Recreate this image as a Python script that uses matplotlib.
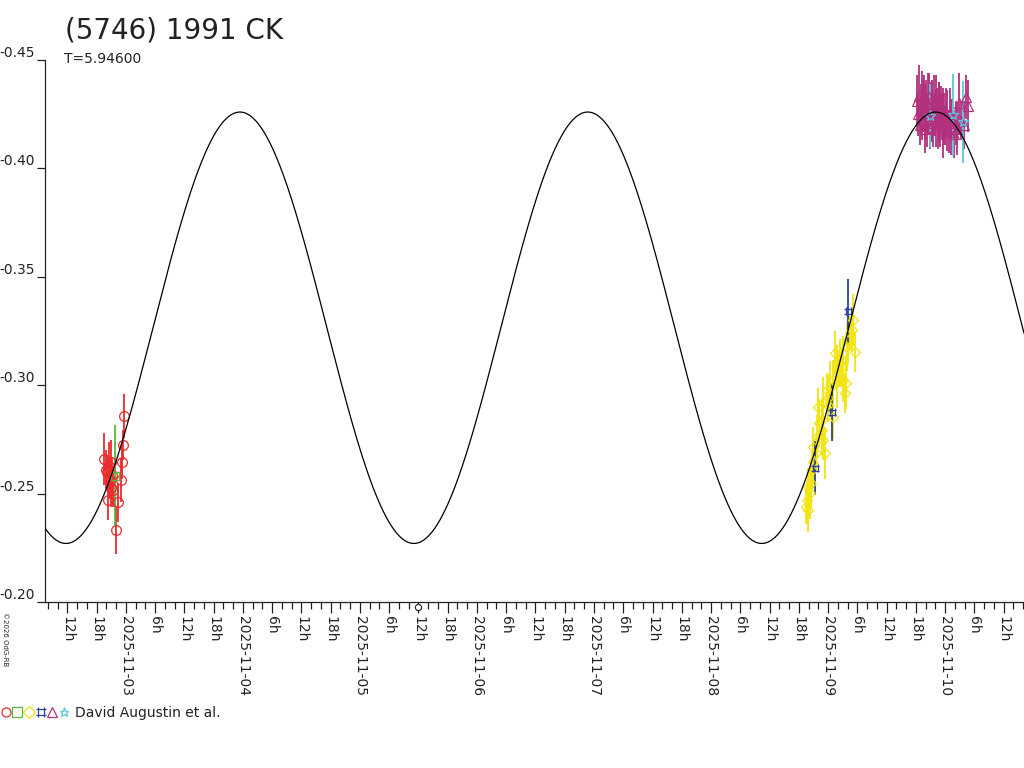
import numpy as np
import matplotlib.pyplot as plt
import matplotlib.dates as mdates
from matplotlib.path import Path
from matplotlib.legend_handler import HandlerTuple
from matplotlib.lines import Line2D
from datetime import datetime

# time axis: days relative to 2025-11-03 00:00 UT
base_date = datetime(2025, 11, 3)
x_range_days = (-0.692, 7.675)

# Fourier model of the light curve (period in days)
period_days = 5.946
model_epoch = 0.974
model_mean = -0.3265
model_amp2 = 0.0995

# red circles
red_days = [-0.188, -0.171, -0.162, -0.145, -0.137, -0.128, -0.120, -0.154,
            -0.111, -0.085, -0.068, -0.043, -0.034, -0.026, -0.017, -0.130]
red_mag = [-0.2660, -0.2609, -0.2600, -0.2627, -0.2563, -0.2646, -0.2586, -0.2470,
           -0.2517, -0.2332, -0.2461, -0.2563, -0.2646, -0.2724, -0.2858, -0.2526]
red_err = [0.012, 0.009, 0.008, 0.011, 0.009, 0.010, 0.008, 0.009,
           0.008, 0.011, 0.009, 0.010, 0.008, 0.007, 0.010, 0.009]

# green squares
green_days = [-0.098]
green_mag = [-0.2580]
green_err = [0.0235]

# yellow diamonds
yellow_days = [5.818, 5.829, 5.812, 5.852, 5.861, 5.872, 5.897, 5.974, 5.872, 5.926,
               5.946, 5.915, 5.960, 6.000, 6.043, 6.000, 6.043, 6.074, 6.128, 6.085,
               6.103, 6.145, 6.154, 6.060, 6.128, 6.171, 6.231, 6.203, 6.214, 6.188,
               6.160, 6.117, 6.074, 6.017, 5.989, 5.946, 5.960, 5.903, 5.846, 5.831]
yellow_mag = [-0.2470, -0.2424, -0.2438, -0.2549, -0.2609, -0.2646, -0.2687, -0.2687,
              -0.2715, -0.2826, -0.2839, -0.2899, -0.2918, -0.2909, -0.2853, -0.2941,
              -0.3024, -0.3015, -0.3024, -0.3070, -0.3102, -0.2964, -0.3010, -0.3149,
              -0.3149, -0.3208, -0.3153, -0.3255, -0.3301, -0.3241, -0.3176, -0.3084,
              -0.3084, -0.2992, -0.2978, -0.2793, -0.2747, -0.2761, -0.2503, -0.2530]
yellow_err = [0.009, 0.010, 0.008, 0.011, 0.009, 0.010, 0.008, 0.012, 0.009, 0.011,
              0.010, 0.009, 0.012, 0.008, 0.010, 0.011, 0.009, 0.012, 0.010, 0.008,
              0.011, 0.009, 0.012, 0.010, 0.008, 0.011, 0.009, 0.010, 0.012, 0.008,
              0.011, 0.009, 0.010, 0.012, 0.008, 0.011, 0.009, 0.010, 0.012, 0.009]

# blue hash markers
blue_days = [5.893, 6.038, 6.174]
blue_mag = [-0.2618, -0.2876, -0.3342]
blue_err = [0.0125, 0.0134, 0.0150]

# magenta triangles
magenta_days = [6.762, 6.770, 6.778, 6.785, 6.792, 6.800, 6.806, 6.812, 6.820, 6.826,
                6.832, 6.840, 6.846, 6.852, 6.860, 6.866, 6.872, 6.880, 6.886, 6.892,
                6.900, 6.906, 6.912, 6.920, 6.926, 6.932, 6.940, 6.946, 6.952, 6.960,
                6.966, 6.972, 6.980, 6.986, 6.992, 7.000, 7.010, 7.020, 7.030, 7.040,
                7.050, 7.060, 7.075, 7.090, 7.105, 7.120, 7.140, 7.160, 7.180, 7.195]
magenta_mag = [-0.4310, -0.4250, -0.4335, -0.4200, -0.4280, -0.4320, -0.4230, -0.4290,
               -0.4340, -0.4180, -0.4260, -0.4310, -0.4220, -0.4300, -0.4250, -0.4330,
               -0.4190, -0.4270, -0.4240, -0.4320, -0.4210, -0.4290, -0.4250, -0.4310,
               -0.4230, -0.4280, -0.4200, -0.4300, -0.4260, -0.4220, -0.4290, -0.4240,
               -0.4180, -0.4270, -0.4230, -0.4200, -0.4260, -0.4220, -0.4170, -0.4250,
               -0.4190, -0.4230, -0.4160, -0.4210, -0.4180, -0.4300, -0.4220, -0.4200,
               -0.4330, -0.4290]
magenta_err = [0.012, 0.010, 0.014, 0.009, 0.011, 0.013, 0.010, 0.012, 0.009, 0.011,
               0.013, 0.010, 0.012, 0.014, 0.009, 0.011, 0.010, 0.013, 0.012, 0.009,
               0.011, 0.014, 0.010, 0.012, 0.013, 0.009, 0.011, 0.010, 0.014, 0.012,
               0.009, 0.011, 0.013, 0.010, 0.012, 0.009, 0.011, 0.014, 0.010, 0.012,
               0.013, 0.009, 0.011, 0.010, 0.012, 0.014, 0.009, 0.011, 0.010, 0.012]

# cyan stars
cyan_days = [6.872, 7.071, 7.154]
cyan_mag = [-0.4242, -0.4246, -0.4214]
cyan_err = [0.0148, 0.0190, 0.0187]

epoch_mark_days = 2.5
y_ticks = [-0.45, -0.40, -0.35, -0.30, -0.25, -0.20]

base_num = mdates.date2num(base_date)


def to_num(days):
    return base_num + np.asarray(days)


hash_marker = Path([(-1, -0.6), (1, -0.6), (-1, 0.6), (1, 0.6),
                    (-0.6, -1), (-0.6, 1), (0.6, -1), (0.6, 1)],
                   [Path.MOVETO, Path.LINETO] * 4)

series = [
    (red_days, red_mag, red_err, 'o', '#ec2a2e', 7),
    (green_days, green_mag, green_err, 's', '#55b83a', 5.5),
    (yellow_days, yellow_mag, yellow_err, 'D', '#f2e40c', 5.5),
    (blue_days, blue_mag, blue_err, hash_marker, '#2b42a0', 6),
    (magenta_days, magenta_mag, magenta_err, '^', '#b2307e', 7),
    (cyan_days, cyan_mag, cyan_err, '*', '#5cc6e0', 8),
]

text_color = '#222222'
fig = plt.figure(figsize=(10.24, 7.68), dpi=100)
ax = fig.add_axes([45 / 1024, 1 - 602 / 768, (1024 - 45) / 1024, 542 / 768])

for days, mag, err, marker, color, size in series:
    ax.errorbar(to_num(days), mag, yerr=err, fmt='none', ecolor=color,
                elinewidth=1.3, capsize=0, zorder=2)
    ax.plot(to_num(days), mag, linestyle='none', marker=marker, ms=size,
            mfc='none', mec=color, mew=0.9, zorder=3)

t_days = np.linspace(x_range_days[0], x_range_days[1], 2000)
model = model_mean - model_amp2 * np.cos(4 * np.pi * (t_days - model_epoch) / period_days)
ax.plot(to_num(t_days), model, color='black', lw=0.9, zorder=5)

ax.set_xlim(to_num(x_range_days[0]), to_num(x_range_days[1]))
ax.set_ylim(-0.20, -0.45)

for side in ['top', 'right']:
    ax.spines[side].set_visible(False)
for side in ['left', 'bottom']:
    ax.spines[side].set_linewidth(0.9)
    ax.spines[side].set_color(text_color)

ax.set_yticks(y_ticks, labels=['%.2f' % v for v in y_ticks], va='bottom')
ax.tick_params(axis='y', length=6, width=0.9, pad=1, labelsize=10,
               colors=text_color)


def hour_label(x, pos):
    hours = int(round((x - np.floor(x + 1e-6)) * 24)) % 24
    if hours == 0:
        return mdates.num2date(round(x)).strftime('%Y-%m-%d')
    return '%dh' % hours


ax.xaxis.set_major_locator(mdates.HourLocator(byhour=[0, 6, 12, 18]))
ax.xaxis.set_minor_locator(mdates.HourLocator(byhour=range(0, 24, 2)))
ax.xaxis.set_major_formatter(plt.FuncFormatter(hour_label))
ax.tick_params(axis='x', which='major', length=8, width=0.9, pad=2,
               labelsize=10, labelrotation=-90, colors=text_color)
ax.tick_params(axis='x', which='minor', length=5, width=0.9, colors=text_color)

ax.plot([to_num(epoch_mark_days)], [-0.009], marker='o', ms=4.5, mfc='white',
        mec=text_color, mew=0.8, transform=ax.get_xaxis_transform(),
        clip_on=False, zorder=6)

fig.text(0.063, 1 - 39 / 768, '(5746) 1991 CK', fontsize=20, color=text_color,
         va='baseline')
fig.text(0.0625, 1 - 63 / 768, 'T=5.94600', fontsize=10, color=text_color,
         va='baseline')
fig.text(0.002, 1 - 612 / 768, '\u00a92026 OdG-RB', fontsize=5, rotation=-90,
         color=text_color, va='top', ha='left')

handles = tuple(Line2D([], [], linestyle='none', marker=m, ms=6.5, mfc='none',
                       mec=c, mew=0.9)
                for _, _, _, m, c, _ in series)
fig.legend([handles], ['David Augustin et al.'],
           handler_map={tuple: HandlerTuple(ndivide=None, pad=0)},
           loc='center left', bbox_to_anchor=(0.0, 1 - 713 / 768),
           frameon=False, fontsize=10, handlelength=5.0, handletextpad=0.4,
           borderpad=0, borderaxespad=0, labelcolor=text_color)

plt.savefig('out.png', dpi=100)
